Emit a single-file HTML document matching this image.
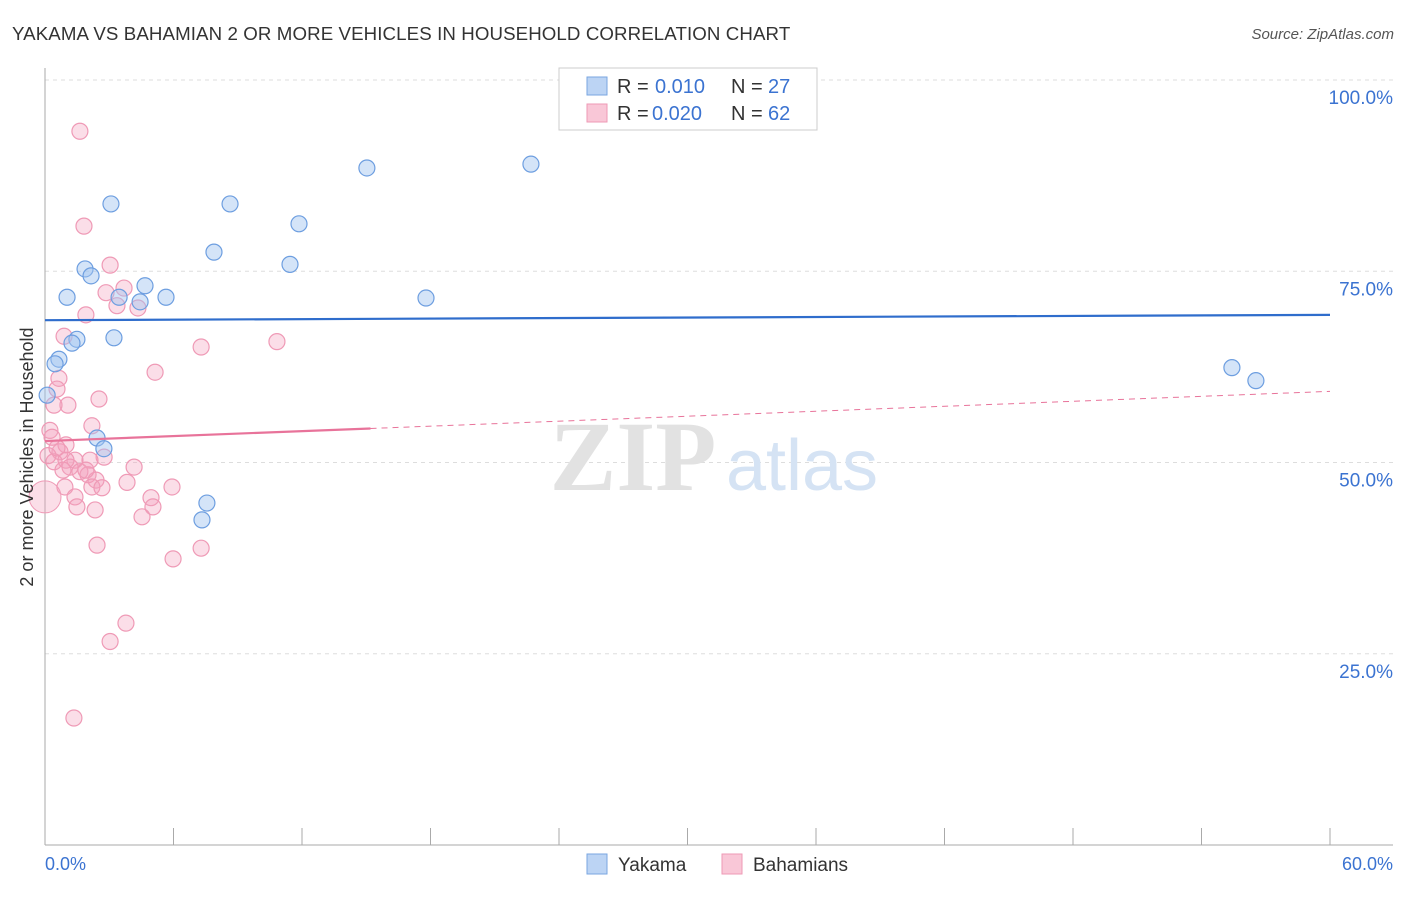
<!DOCTYPE html>
<html><head><meta charset="utf-8"><style>
body{margin:0;background:#fff;font-family:"Liberation Sans",sans-serif;}
</style></head><body>
<svg width="1406" height="892" xmlns="http://www.w3.org/2000/svg" font-family="Liberation Sans, sans-serif">
<text x="12" y="40" font-size="18.7" letter-spacing="0.1" fill="#333">YAKAMA VS BAHAMIAN 2 OR MORE VEHICLES IN HOUSEHOLD CORRELATION CHART</text>
<text x="1394" y="39" font-size="15" fill="#555" font-style="italic" text-anchor="end">Source: ZipAtlas.com</text>
<g id="grid"></g>
<g>
<text x="633" y="490" font-size="100" fill="#e2e2e2" text-anchor="middle" font-family="Liberation Serif, serif" font-weight="bold">ZIP</text>
<text x="802" y="490" font-size="72" fill="#d5e3f4" text-anchor="middle">atlas</text>
</g>
<g id="axes"></g>
<g id="pts"></g>
<g id="trends"></g>
<text transform="translate(33,457) rotate(-90)" font-size="18" fill="#333" text-anchor="middle">2 or more Vehicles in Household</text>
<g>
<rect x="559" y="68" width="258" height="62" fill="#fff" stroke="#ccc"/>
<rect x="587" y="77" width="20" height="18" fill="#bcd4f4" stroke="#7aa6e0"/>
<rect x="587" y="104" width="20" height="18" fill="#f9c7d7" stroke="#ee9ab5"/>
<text x="617" y="93" font-size="20" fill="#333">R =</text>
<text x="655" y="93" font-size="20" fill="#3b73d1">0.010</text>
<text x="731" y="93" font-size="20" fill="#333">N =</text>
<text x="768" y="93" font-size="20" fill="#3b73d1">27</text>
<text x="617" y="120" font-size="20" fill="#333">R =</text>
<text x="652" y="120" font-size="20" fill="#3b73d1">0.020</text>
<text x="731" y="120" font-size="20" fill="#333">N =</text>
<text x="768" y="120" font-size="20" fill="#3b73d1">62</text>
</g>
<g>
<rect x="587" y="854" width="20" height="20" fill="#bcd4f4" stroke="#7aa6e0"/>
<text x="618" y="871" font-size="19" fill="#333">Yakama</text>
<rect x="722" y="854" width="20" height="20" fill="#f9c7d7" stroke="#ee9ab5"/>
<text x="753" y="871" font-size="19" fill="#333">Bahamians</text>
</g>
</svg>
<script>
const yTicks=[25,50,75,100];
const yTickLabels=["25.0%","50.0%","75.0%","100.0%"];
const xTicks=[0,6,12,18,24,30,36,42,48,54,60];
const yakamaX=[3.08,8.64,15.03,22.69,11.86,7.89,11.44,1.87,2.15,4.67,1.03,3.46,4.44,5.65,17.79,1.49,1.26,3.22,0.65,0.47,2.43,2.75,7.56,7.33,55.42,56.54,0.1];
const yakamaY=[83.8,83.8,88.5,89.0,81.2,77.5,75.9,75.3,74.4,73.1,71.6,71.6,71.0,71.6,71.5,66.1,65.6,66.3,63.5,62.9,53.2,51.8,44.7,42.5,62.4,60.7,58.8];
const bahX=[1.63,1.82,3.04,2.85,3.69,3.36,4.34,1.91,0.89,7.29,10.83,5.14,0.65,0.56,2.52,1.07,0.42,2.19,0.23,0.98,0.33,2.76,0.7,1.4,2.1,0.42,1.17,4.16,1.63,2.01,0.98,2.38,3.83,2.19,0.93,2.66,5.93,4.95,1.4,5.04,1.49,2.34,4.53,2.43,7.29,5.98,3.78,3.04,1.35,0.14,0.56,0.84,1.91];
const bahY=[93.3,80.9,75.8,72.2,72.8,70.5,70.2,69.3,66.5,65.1,65.8,61.8,61.0,59.6,58.3,57.5,57.5,54.8,54.2,52.3,53.3,50.7,51.4,50.3,50.3,50.1,49.4,49.4,48.8,48.4,50.3,47.7,47.4,46.8,46.8,46.7,46.8,45.4,45.5,44.2,44.2,43.8,42.9,39.2,38.8,37.4,29.0,26.6,16.6,50.9,51.9,49.0,49.0];
const yakTrend=[68.6,69.3];
const bahTrend=[52.8,59.3];
const bahSolidEnd=15.2;
const NS="http://www.w3.org/2000/svg";
const X=v=>45+v/60*1285, Y=v=>845-v*7.65;
function mk(t,a,p){const e=document.createElementNS(NS,t);for(const k in a)e.setAttribute(k,a[k]);document.getElementById(p).appendChild(e);return e;}
yTicks.forEach((t,i)=>{
 const g=mk('line',{x1:45,x2:1393,y1:Y(t),y2:Y(t),stroke:'#ddd','stroke-dasharray':'4,4'},'grid');
 
 
 const l=mk('text',{x:1393,y:Y(t)+24,'font-size':19,fill:'#3b73d1','text-anchor':'end'},'axes');
 l.textContent=yTickLabels[i];
 
 
});
mk('line',{x1:45,x2:45,y1:68,y2:845,stroke:'#aaa'},'axes');
mk('line',{x1:45,x2:1393,y1:845,y2:845,stroke:'#aaa'},'axes');
xTicks.forEach(t=>{const e=mk('line',{x1:X(t),x2:X(t),y1:828,y2:845,stroke:'#aaa'},'axes');
 
 });
const x0=mk('text',{x:45,y:870,'font-size':18,fill:'#3b73d1'},'axes');x0.textContent='0.0%';


const x1=mk('text',{x:1393,y:870,'font-size':18,fill:'#3b73d1','text-anchor':'end'},'axes');x1.textContent='60.0%';


bahX.forEach((v,i)=>{const c=mk('circle',{cx:X(v),cy:Y(bahY[i]),r:8,fill:'rgba(244,160,188,0.35)',stroke:'#ef9ab6','stroke-width':1.2},'pts');
 
 });
const big=mk('circle',{cx:X(0),cy:Y(45.5),r:16,fill:'rgba(244,160,188,0.35)',stroke:'#ef9ab6'},'pts');


yakamaX.forEach((v,i)=>{const c=mk('circle',{cx:X(v),cy:Y(yakamaY[i]),r:8,fill:'rgba(160,196,240,0.45)',stroke:'#6d9ee0','stroke-width':1.2},'pts');
 
 });
const yl=mk('line',{x1:X(0),x2:X(60),y1:Y(yakTrend[0]),y2:Y(yakTrend[1]),stroke:'#2f6dcc','stroke-width':2.2},'trends');


const bm=bahTrend[0]+(bahTrend[1]-bahTrend[0])*bahSolidEnd/60;
const bl=mk('line',{x1:X(0),x2:X(bahSolidEnd),y1:Y(bahTrend[0]),y2:Y(bm),stroke:'#e8739a','stroke-width':2.2},'trends');


const bd=mk('line',{x1:X(bahSolidEnd),x2:X(60),y1:Y(bm),y2:Y(bahTrend[1]),stroke:'#e8739a','stroke-width':1,'stroke-dasharray':'6,5'},'trends');


</script>
</body></html>
